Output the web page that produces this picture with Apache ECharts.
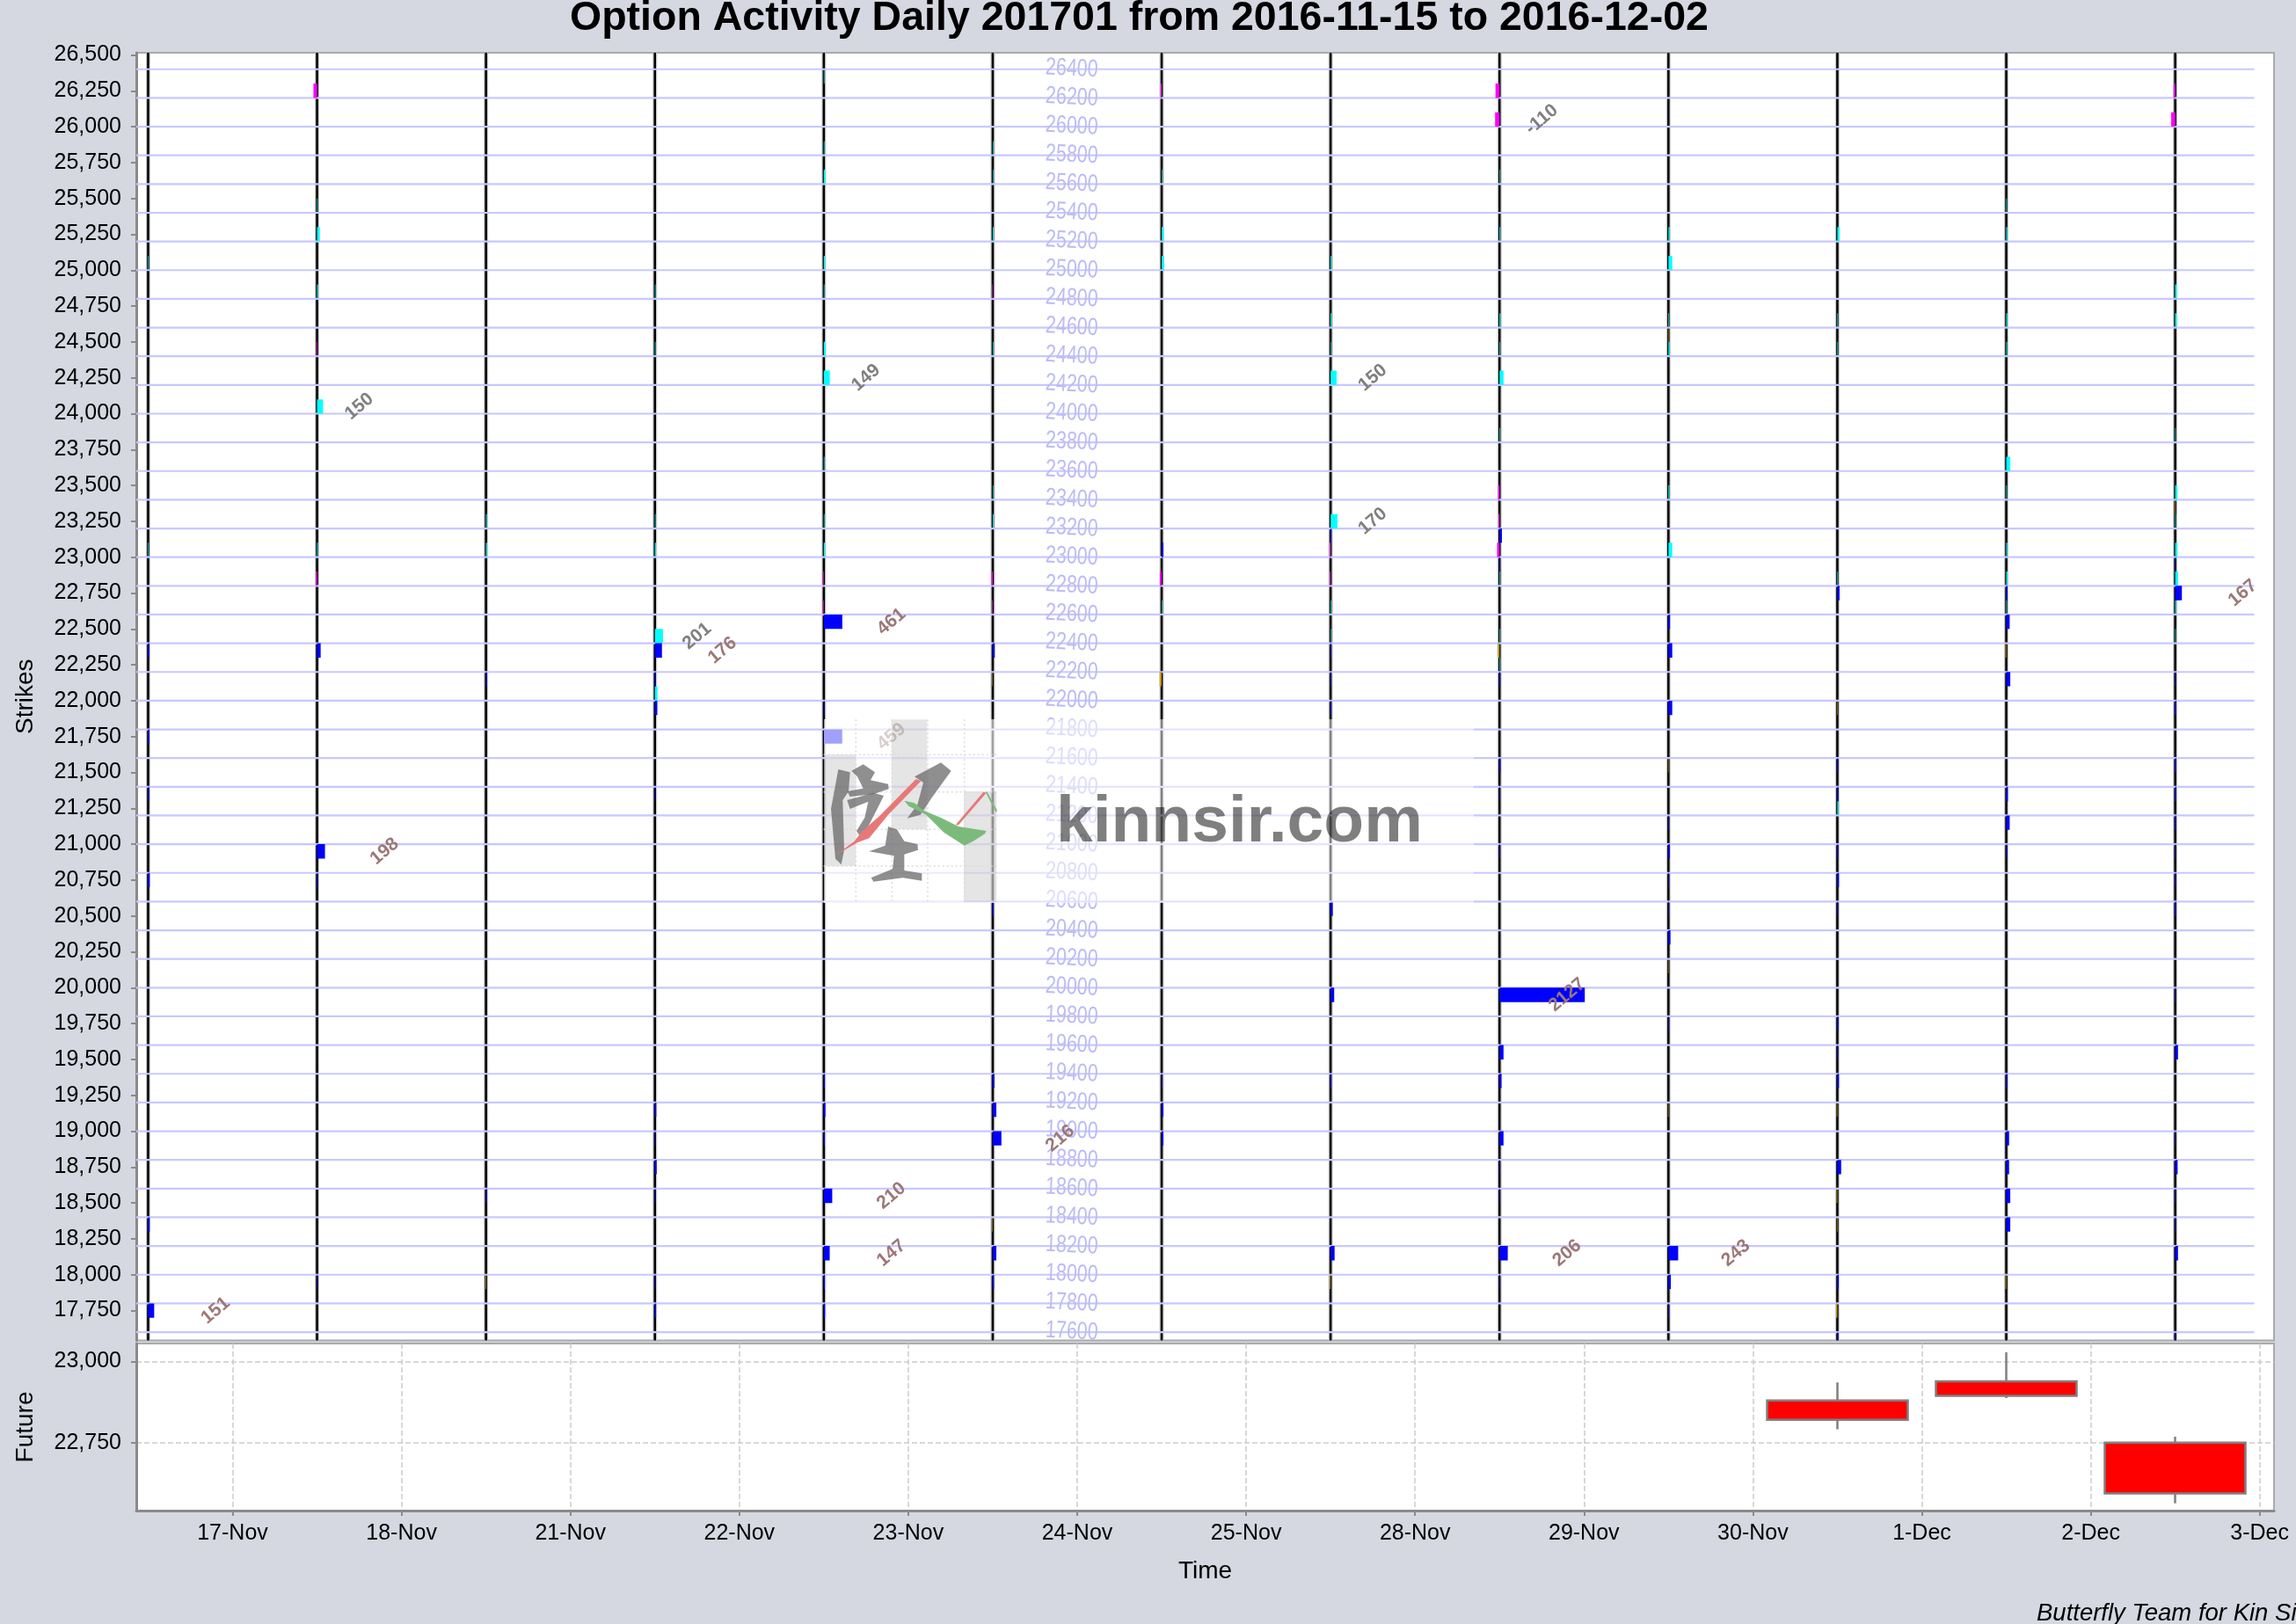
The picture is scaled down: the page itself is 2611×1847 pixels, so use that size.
<!DOCTYPE html>
<html><head><meta charset="utf-8">
<style>html,body{margin:0;padding:0;background:#d5d8e0}#c{width:2611px;height:1847px}</style>
<script src="https://cdn.jsdelivr.net/npm/echarts@6/dist/echarts.min.js"></script>
</head><body><div id="c"></div>
<script>
const titleText = 'Option Activity Daily 201701 from 2016-11-15 to 2016-12-02';
const tradeDays = ['16-Nov','17-Nov','18-Nov','21-Nov','22-Nov','23-Nov','24-Nov','25-Nov','28-Nov','29-Nov','30-Nov','1-Dec','2-Dec'];
const xTickLabels = ['17-Nov','18-Nov','21-Nov','22-Nov','23-Nov','24-Nov','25-Nov','28-Nov','29-Nov','30-Nov','1-Dec','2-Dec','3-Dec'];
const strikeTicks = [17750,18000,18250,18500,18750,19000,19250,19500,19750,20000,20250,20500,20750,21000,21250,21500,21750,22000,22250,22500,22750,23000,23250,23500,23750,24000,24250,24500,24750,25000,25250,25500,25750,26000,26250,26500];
const strikeLines = [17600,17800,18000,18200,18400,18600,18800,19000,19200,19400,19600,19800,20000,20200,20400,20600,20800,21000,21200,21400,21600,21800,22000,22200,22400,22600,22800,23000,23200,23400,23600,23800,24000,24200,24400,24600,24800,25000,25200,25400,25600,25800,26000,26200,26400];
const futureTicks = [22750,23000];
// [day index, lower strike of the 100-wide cell, value]
const cyanBars = [
[0,25000,10],[0,23000,15],
[1,25400,15],[1,25200,68],[1,24800,25],[1,24000,150],[1,23000,20],
[2,23200,20],[2,23000,25],
[3,24800,15],[3,24400,15],[3,23200,15],[3,23000,25],[3,22400,201],[3,22000,65],
[4,26300,15],[4,25800,15],[4,25600,40],[4,25000,30],[4,24800,15],[4,24400,50],[4,24200,149],[4,23600,15],[4,23200,15],[4,23000,30],
[5,25800,15],[5,25600,10],[5,25200,20],[5,24400,15],[5,23400,10],[5,23200,20],
[6,25600,10],[6,25200,50],[6,25000,60],[6,22600,12],
[7,25000,25],[7,24600,25],[7,24400,10],[7,24200,150],[7,23200,170],[7,22600,15],[7,22400,10],
[8,25600,10],[8,25200,20],[8,24600,25],[8,24400,15],[8,24200,100],[8,23800,15],[8,22800,15],[8,22400,15],[8,22200,10],
[9,25200,30],[9,25000,95],[9,24600,15],[9,24400,30],[9,23400,25],[9,23000,95],
[10,25200,55],[10,24600,15],[10,24400,15],[10,22800,15],[10,21200,30],
[11,25400,15],[11,25200,25],[11,24600,25],[11,24400,20],[11,23600,100],[11,23400,15],[11,23000,25],[11,22800,30],[11,22600,15],
[12,24800,40],[12,24600,40],[12,23800,10],[12,23400,55],[12,23200,15],[12,23000,55],[12,22800,70],[12,22600,25],[12,22400,15]
];
const magentaBars = [
[1,26200,-90],[1,24400,-15],[1,22800,-30],
[4,22800,-15],[4,22600,-15],
[5,24800,-12],[5,22800,-30],[5,22600,-15],
[6,26200,-25],[6,22800,-45],
[7,23000,-25],[7,22800,-20],
[8,26200,-100],[8,26000,-110],[8,23400,-35],[8,23200,-25],[8,23000,-60],
[12,26200,-40],[12,26000,-100]
];
const blueBars = [
[0,22300,30],[0,21700,30],[0,21300,25],[0,20700,40],[0,18300,40],[0,17700,151],
[1,22300,90],[1,20900,198],[1,20700,20],[1,17900,10],
[2,22100,20],[2,18500,20],
[3,22300,176],[3,22100,20],[3,21900,60],[3,21300,10],[3,19100,35],[3,18900,15],[3,18700,45],[3,18500,15],[3,17900,15],[3,17700,30],
[4,22500,461],[4,21900,15],[4,21700,459],[4,19300,20],[4,19100,40],[4,18900,20],[4,18500,210],[4,18100,147],[4,17900,25],[4,17700,30],
[5,22300,50],[5,20500,25],[5,19300,40],[5,19100,90],[5,18900,216],[5,18100,90],[5,17900,30],
[6,23000,40],[6,19300,15],[6,19100,40],[6,18900,40],
[7,23100,20],[7,22300,15],[7,22100,15],[7,21900,20],[7,20500,55],[7,19900,90],[7,19300,20],[7,18100,100],
[8,23100,60],[8,22900,15],[8,22100,20],[8,21500,25],[8,21300,10],[8,20900,15],[8,19900,2127],[8,19500,100],[8,19300,50],[8,18900,100],[8,18700,10],[8,18500,10],[8,18100,206],[8,17900,10],
[9,22500,40],[9,22300,95],[9,21900,95],[9,21100,10],[9,20900,35],[9,20700,15],[9,20500,10],[9,20300,50],[9,19700,10],[9,18100,243],[9,17900,60],[9,17700,15],
[10,22700,55],[10,21500,20],[10,21300,25],[10,20900,20],[10,20700,40],[10,20500,15],[10,19700,25],[10,19500,15],[10,19300,40],[10,18700,95],[10,17900,35],[10,17500,20],
[11,22700,30],[11,22500,85],[11,22100,100],[11,21300,40],[11,21100,85],[11,20900,20],[11,19300,25],[11,18900,70],[11,18700,70],[11,18500,100],[11,18300,100],
[12,22900,15],[12,22700,167],[12,22100,15],[12,21900,30],[12,21500,30],[12,21300,30],[12,21100,25],[12,20900,15],[12,20700,20],[12,20500,25],[12,19900,15],[12,19500,70],[12,18900,15],[12,18700,60],[12,18500,15],[12,18300,15],[12,18100,70],[12,17500,15]
];
const goldBars = [
[2,17900,-15],[5,22100,-12],[5,18300,-15],[6,22100,-50],[7,17900,-20],[8,22300,-40],
[9,24500,-10],[9,21500,-10],[9,20100,-10],[9,19100,-10],
[10,21900,-8],[10,19100,-15],[10,18500,-20],[10,18300,-10],[10,17700,-30],
[11,22300,-20],[11,17900,-20],[12,23300,-10]
];
// [day index, open, close, low, high]
const futureCandles = [
[10,22880,22820,22791,22935],
[11,22939,22894,22887,23028],
[12,22750,22594,22563,22768]
];

const UNITS_PER_DAY = 4213, LABEL_MIN = 110, Y_MIN = 17542, Y_MAX = 26515;

function barSeries(bars, color){
  return {type:'custom', xAxisIndex:0, yAxisIndex:0, z:5, clip:true, data:bars, animation:false,
    encode:{x:0,y:1},
    renderItem(p,api){
      const d=api.value(0),k=api.value(1),v=api.value(2);
      const a=api.coord([d,k]), b=api.coord([d+v/UNITS_PER_DAY,k+100]);
      return {type:'rect',shape:{x:Math.min(a[0],b[0]),y:b[1],width:Math.max(Math.abs(b[0]-a[0]),.6),height:a[1]-b[1]},style:{fill:color}};
    }};
}
function labelSeries(bars, color, off){
  return {type:'custom', xAxisIndex:0, yAxisIndex:0, z:7, clip:false, animation:false,
    data:bars.filter(b=>Math.abs(b[2])>=LABEL_MIN), encode:{x:0,y:1},
    renderItem(p,api){
      const d=api.value(0),k=api.value(1),v=api.value(2);
      const a=api.coord([d+off,k+50]);
      return {type:'text',x:a[0],y:a[1],rotation:40*Math.PI/180,
        style:{text:String(v),fill:color,font:'bold 21px "Liberation Sans"',textAlign:'center',textVerticalAlign:'middle'}};
    }};
}
const series = [
  {type:'custom',xAxisIndex:0,yAxisIndex:0,z:2,animation:false,clip:false,
   data:tradeDays.map((n,i)=>[i,n]),encode:{x:0},
   renderItem(p,api){
     const t=api.coord([api.value(0),Y_MAX]),b=api.coord([api.value(0),Y_MIN]);
     return {type:'group',children:[
       {type:'line',shape:{x1:t[0],y1:t[1],x2:b[0],y2:b[1]},style:{stroke:'#c6c6c6',lineWidth:5}},
       {type:'line',shape:{x1:t[0],y1:t[1],x2:b[0],y2:b[1]},style:{stroke:'#000',lineWidth:2.5}}
     ]};
   }},
  {type:'custom',xAxisIndex:0,yAxisIndex:0,z:3,animation:false,clip:false,
   data:strikeLines.map(k=>[k]),encode:{y:0},
   renderItem(p,api){
     const k=api.value(0),a=api.coord([-0.07,k]),b=api.coord([12.468,k]),m=api.coord([5.623,k]);
     return {type:'group',children:[
       {type:'line',shape:{x1:a[0],y1:a[1],x2:b[0],y2:b[1]},style:{stroke:'#c8c8ff',lineWidth:2.2}},
       {type:'text',x:m[0],y:m[1]+1,rotation:-0.05,scaleY:1.3,
        style:{text:String(k),fill:'#bcbcf4',font:'21.5px "Liberation Sans"',textAlign:'right',textVerticalAlign:'middle'}}
     ]};
   }},
  barSeries(cyanBars,'#00ffff'),barSeries(magentaBars,'#ff00ff'),barSeries(blueBars,'#0000ff'),barSeries(goldBars,'#c09a10'),
  labelSeries(cyanBars,'#808080',.25),labelSeries(magentaBars,'#808080',.25),labelSeries(blueBars,'#9c7878',.4),
  {type:'candlestick',xAxisIndex:1,yAxisIndex:1,data:futureCandles,encode:{x:0,y:[1,2,3,4]},barWidth:160,animation:false,
   itemStyle:{color:'#ff0000',color0:'#ff0000',borderColor:'#808080',borderColor0:'#808080',borderWidth:2.5}}
];

const C=(cx,cy)=>[900+cx/3,780+cy/3];
const poly=(pts,fill)=>({type:'polygon',z:101,shape:{points:pts.map(p=>C(p[0],p[1]))},style:{fill}});
const dotted=(a,b,c,d)=>({type:'line',z:101,shape:{x1:C(a,b)[0],y1:C(a,b)[1],x2:C(c,d)[0],y2:C(c,d)[1]},style:{stroke:'#dcdcdc',lineWidth:1.5,lineDash:[2,3]}});
const block=(x,y,w,h)=>({type:'rect',z:101,shape:{x:C(x,y)[0],y:C(x,y)[1],width:w/3,height:h/3},style:{fill:'rgba(0,0,0,0.1)'}});
const INK='rgba(100,100,100,0.72)';
const graphic=[
  {type:'rect',z:100,shape:{x:937,y:818,width:739,height:209},style:{fill:'rgba(255,255,255,0.5)'}},
  {type:'rect',z:100,shape:{x:937,y:818,width:196,height:209},style:{fill:'rgba(255,255,255,0.25)'}},
  block(110,235,110,380),block(342,115,121,375),block(588,360,112,378),
  dotted(220,115,220,738),dotted(343,115,343,738),dotted(465,115,465,738),dotted(590,115,590,738),
  dotted(110,235,700,235),dotted(110,362,700,362),dotted(110,490,700,490),dotted(110,615,700,615),
  poly([[160,285],[200,295],[195,360],[175,390],[180,560],[170,610],[150,590],[135,420]],INK),
  poly([[205,290],[245,268],[285,295],[270,322],[330,335],[332,352],[280,370],[200,378],[190,360],[245,350],[225,310]],INK),
  poly([[280,365],[315,375],[290,425],[240,522],[222,495],[250,450],[262,395],[200,420],[190,390]],INK),
  poly([[420,310],[510,262],[545,290],[480,380],[440,440],[395,452],[430,405],[450,330]],INK),
  poly([[330,480],[360,490],[385,530],[430,540],[432,560],[385,575],[385,630],[445,640],[445,665],[380,655],[280,668],[272,655],[345,625],[350,580],[265,565],[320,545]],INK),
  poly([[150,578],[225,535],[265,520],[330,440],[442,325],[425,318],[300,445],[240,497],[215,530]],'#e87878'),
  poly([[560,475],[655,362],[665,365],[570,475]],'#e87878'),
  poly([[385,392],[420,400],[450,425],[510,450],[570,480],[665,495],[660,505],[620,530],[590,545],[520,500],[460,440],[400,410]],'#7cba7c'),
  poly([[662,362],[668,362],[702,425],[698,432]],'#7cba7c'),
  {type:'text',z:102,x:1201,y:936,style:{text:'kinnsir.com',fill:'rgba(0,0,0,0.5)',font:'bold 75px "Liberation Sans"',textAlign:'left',textVerticalAlign:'middle'}},
  {type:'text',z:102,x:2316,y:1835,style:{text:'Butterfly Team for Kin Sir',fill:'#000',font:'italic 27.5px "Liberation Sans"',textAlign:'left',textVerticalAlign:'middle'}}
];
const axisText={color:'#000',fontFamily:'Liberation Sans',fontSize:25};
const axLine={show:true,lineStyle:{color:'#8a8a8a',width:3}};
const tick={show:true,length:6,lineStyle:{color:'#8a8a8a',width:2}};
const option={
  backgroundColor:'#d5d8e0',animation:false,
  title:{text:titleText,left:643,top:-7,textStyle:{color:'#000',fontFamily:'Liberation Sans',fontWeight:'bold',fontSize:46.5}},
  grid:[
    {left:155,top:60,width:2431,height:1464.5,show:true,backgroundColor:'#fff',borderColor:'#aaaaaa',borderWidth:2,outerBoundsMode:'none',containLabel:false},
    {left:155,top:1528,width:2431,height:190,show:true,backgroundColor:'#fff',borderColor:'#aaaaaa',borderWidth:2,outerBoundsMode:'none',containLabel:false}
  ],
  xAxis:[
    {type:'value',gridIndex:0,min:-0.07,max:12.585,show:false,splitLine:{show:false}},
    {type:'value',gridIndex:1,min:-0.07,max:12.585,
     name:'Time',nameLocation:'middle',nameGap:55,nameTextStyle:{color:'#000',fontFamily:'Liberation Sans',fontSize:28},
     axisLine:{...axLine,onZero:false},
     axisTick:{...tick,customValues:xTickLabels.map((_,i)=>i+.5)},
     axisLabel:{...axisText,margin:14,customValues:xTickLabels.map((_,i)=>i+.5),formatter:v=>xTickLabels[Math.round(v-.5)]||''},
     splitLine:{show:true,lineStyle:{color:'#cccccc',type:'dashed',width:1.5}}}
  ],
  yAxis:[
    {type:'value',gridIndex:0,min:Y_MIN,max:Y_MAX,
     name:'Strikes',nameLocation:'middle',nameGap:112,nameTextStyle:{color:'#000',fontFamily:'Liberation Sans',fontSize:28},
     axisLine:{...axLine,onZero:false},
     axisTick:{...tick,customValues:strikeTicks},
     axisLabel:{...axisText,margin:17,customValues:strikeTicks,formatter:v=>v.toLocaleString('en-US')},
     splitLine:{show:false}},
    {type:'value',gridIndex:1,min:22541,max:23055,
     name:'Future',nameLocation:'middle',nameGap:112,nameTextStyle:{color:'#000',fontFamily:'Liberation Sans',fontSize:28},
     axisLine:{...axLine,onZero:false},
     axisTick:{...tick,customValues:futureTicks},
     axisLabel:{...axisText,margin:17,customValues:futureTicks,formatter:v=>v.toLocaleString('en-US')},
     splitLine:{show:true,lineStyle:{color:'#cccccc',type:'dashed',width:1.5}}}
  ],
  series,graphic
};
echarts.init(document.getElementById('c')).setOption(option);
</script></body></html>
